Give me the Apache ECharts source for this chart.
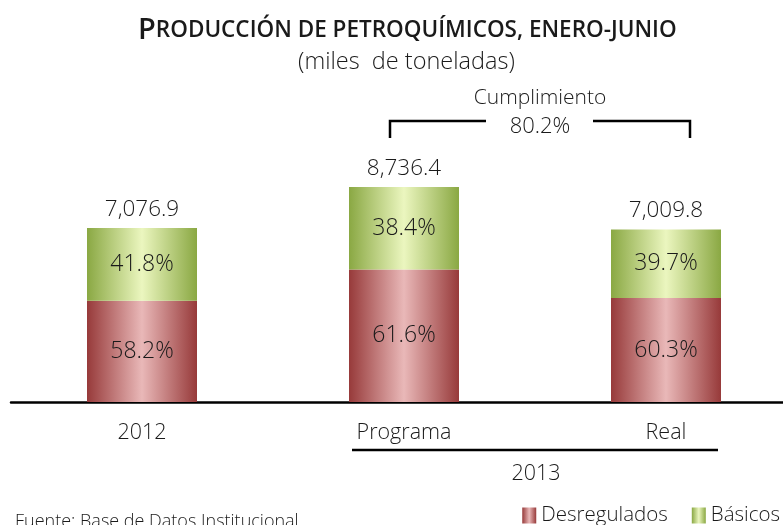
<!DOCTYPE html>
<html>
<head>
<meta charset="utf-8">
<script src="https://cdn.jsdelivr.net/npm/echarts@6/dist/echarts.min.js"></script>
<style>
  html, body { margin: 0; padding: 0; background: #fff; }
  #chart { width: 783px; height: 525px; }
</style>
</head>
<body>
<div id="chart"></div>
<script>
// datos (miles de toneladas)
var categorias = ['2012', 'Programa', 'Real'];
var totales = [7076.9, 8736.4, 7009.8];
var desregulados = [4118.8, 5381.6, 4226.9];
var basicos = [2958.1, 3354.8, 2782.9];
var pctDesregulados = [58.2, 61.6, 60.3];
var pctBasicos = [41.8, 38.4, 39.7];

var fuente = "'Open Sans', 'DejaVu Sans', sans-serif";

function fmtMiles(v) {
    var p = v.toFixed(1).split('.');
    return p[0].replace(/\B(?=(\d{3})+(?!\d))/g, ',') + '.' + p[1];
}
// cumplimiento real vs programa
var cumplimiento = (totales[2] / totales[1] * 100).toFixed(1) + '%';

function degradado(borde, centro) {
    return new echarts.graphic.LinearGradient(0, 0, 1, 0, [
        { offset: 0, color: borde },
        { offset: 0.5, color: centro },
        { offset: 1, color: borde }
    ]);
}
var rojo = degradado('#973a3a', '#e9b8b8');
var verde = degradado('#8aa843', '#ebf6bf');

var chart = echarts.init(document.getElementById('chart'));
var option = {
    animation: false,
    title: [{
        text: '{a|P}{b|RODUCCIÓN DE PETROQUÍMICOS, ENERO-JUNIO}',
        left: 133,
        top: 11,
        textStyle: {
            rich: {
                a: { fontFamily: fuente, fontSize: 29, fontWeight: 600, color: '#1a1a1a' },
                b: { fontFamily: fuente, fontSize: 22.5, fontWeight: 600, color: '#1a1a1a' }
            }
        }
    }, {
        text: '(miles  de toneladas)',
        left: 293,
        top: 45,
        textStyle: { fontFamily: fuente, fontSize: 23.5, fontWeight: 300, color: '#1a1a1a' }
    }],
    legend: {
        data: ['Desregulados', 'Básicos'],
        icon: 'rect',
        right: -2,
        top: 500,
        itemWidth: 14,
        itemHeight: 16,
        itemGap: 24,
        textStyle: { fontFamily: fuente, fontSize: 20.5, fontWeight: 300, color: '#1a1a1a' }
    },
    grid: { left: 11, width: 786, top: 156, bottom: 123, outerBoundsMode: 'none' },
    xAxis: {
        type: 'category',
        data: categorias,
        axisLine: { lineStyle: { color: '#000', width: 2.5 } },
        axisTick: { show: false },
        axisLabel: { margin: 20, fontFamily: fuente, fontSize: 21.5, fontWeight: 300, color: '#1a1a1a' }
    },
    yAxis: {
        type: 'value',
        min: 0,
        max: 10000,
        show: false
    },
    series: [{
        name: 'Desregulados',
        type: 'bar',
        stack: 'total',
        barWidth: 110,
        itemStyle: { color: rojo },
        label: {
            show: true,
            position: 'inside',
            fontFamily: fuente, fontSize: 23, fontWeight: 300, color: '#1a1a1a',
            formatter: function (p) { return pctDesregulados[p.dataIndex].toFixed(1) + '%'; }
        },
        data: desregulados
    }, {
        name: 'Básicos',
        type: 'bar',
        stack: 'total',
        barWidth: 110,
        itemStyle: { color: verde },
        label: {
            show: true,
            position: 'inside',
            fontFamily: fuente, fontSize: 23, fontWeight: 300, color: '#1a1a1a',
            formatter: function (p) { return pctBasicos[p.dataIndex].toFixed(1) + '%'; }
        },
        data: basicos
    }, {
        // solo para la etiqueta del total
        name: 'Total',
        type: 'bar',
        stack: 'total',
        barWidth: 110,
        itemStyle: { color: 'transparent' },
        label: {
            show: true,
            position: 'top',
            distance: 7,
            fontFamily: fuente, fontSize: 22.5, fontWeight: 300, color: '#1a1a1a',
            formatter: function (p) { return fmtMiles(totales[p.dataIndex]); }
        },
        data: totales.map(function () { return 0; })
    }],
    graphic: [
        { type: 'text', x: 540, y: 98,
          style: { text: 'Cumplimiento', font: '300 21px ' + fuente, fill: '#1a1a1a', textAlign: 'center', textVerticalAlign: 'middle' } },
        { type: 'text', x: 540, y: 127,
          style: { text: cumplimiento, font: '300 22px ' + fuente, fill: '#1a1a1a', textAlign: 'center', textVerticalAlign: 'middle' } },
        { type: 'polyline', shape: { points: [[390, 138], [390, 121], [486, 121]] },
          style: { stroke: '#000', lineWidth: 2.5, fill: null } },
        { type: 'polyline', shape: { points: [[593, 121], [690, 121], [690, 138]] },
          style: { stroke: '#000', lineWidth: 2.5, fill: null } },
        { type: 'line', shape: { x1: 352, y1: 450, x2: 718, y2: 450 },
          style: { stroke: '#000', lineWidth: 2.5 } },
        { type: 'text', x: 536, y: 474,
          style: { text: '2013', font: '300 21.5px ' + fuente, fill: '#1a1a1a', textAlign: 'center', textVerticalAlign: 'middle' } },
        { type: 'text', x: 15, y: 513,
          style: { text: 'Fuente: Base de Datos Institucional', font: '300 18px ' + fuente, fill: '#1a1a1a' } }
    ]
};
chart.setOption(option);
</script>
</body>
</html>
